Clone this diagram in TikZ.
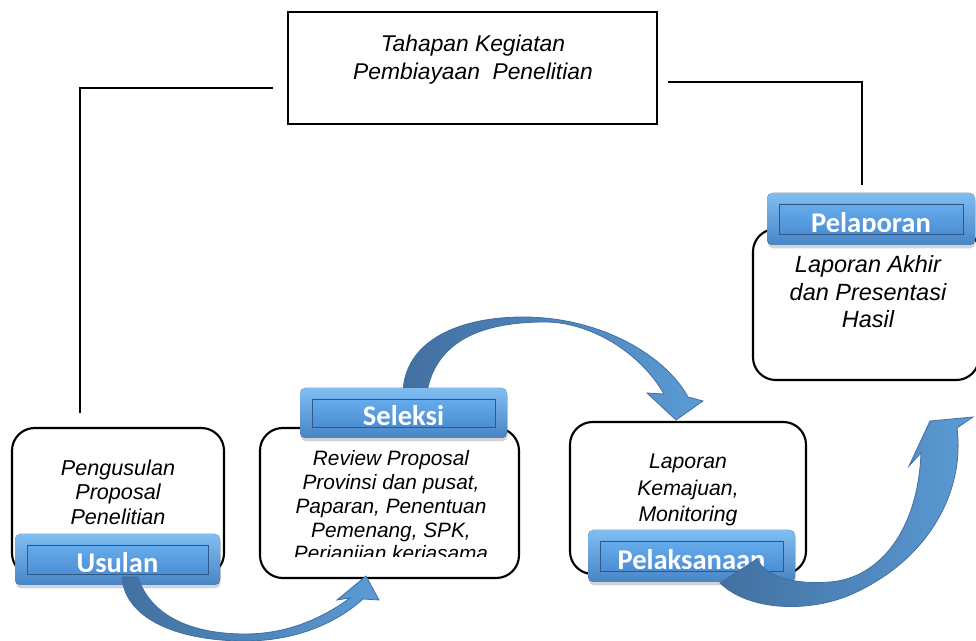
\documentclass[tikz,border=0pt]{standalone}
\usepackage{fontspec}
\setmainfont{Liberation Sans}
\newfontfamily\tombolfont{Carlito}
\usetikzlibrary{shadows}
\definecolor{biruPanah}{RGB}{91,155,213}
\definecolor{biruGelap}{RGB}{66,112,160}
\definecolor{biruAtas}{RGB}{128,190,242}
\definecolor{biruBawah}{RGB}{72,132,198}
\definecolor{mukaAtas}{RGB}{102,172,236}
\definecolor{mukaBawah}{RGB}{76,142,212}
\definecolor{garisMuka}{RGB}{48,88,132}
\tikzset{
  kotak/.style={draw=black,line width=1.6pt,rounded corners=17pt},
  garis/.style={draw=black,line width=1.6pt},
  panah/.style={left color=biruGelap,right color=biruPanah,draw=biruGelap,line width=.6pt},
  tombolluar/.style={top color=biruAtas,bottom color=biruBawah,rounded corners=4pt,
    drop shadow={shadow xshift=.5pt,shadow yshift=-2.5pt,opacity=.35}},
  tombolmuka/.style={top color=mukaAtas,bottom color=mukaBawah,draw=garisMuka,line width=.7pt},
  tomboltext/.style={anchor=base,text=white,inner sep=0pt,
    font=\tombolfont\bfseries\fontsize{21.4}{24}\selectfont},
  isi/.style={align=center,inner sep=0pt}
}
\begin{document}
\begin{tikzpicture}[x=.75pt,y=-.75pt]
  \useasboundingbox (0,0) rectangle (976,641);
  \clip (0,0) rectangle (976,641);
  % judul
  \node[draw=black,line width=1.6pt,minimum width=276.75pt,minimum height=84pt,inner sep=0pt] (judul) at (472.5,68) {};
  \node[isi,font=\fontsize{17.1}{21}\selectfont\itshape] (judulteks) at (473,60) {Tahapan Kegiatan\\Pembiayaan\ \ Penelitian};
  \coordinate (kiriA) at (273,88);
  \coordinate (kiriB) at (80,88);
  \coordinate (kiriC) at (80,413);
  \coordinate (kananA) at (668,82);
  \coordinate (kananB) at (862,82);
  \coordinate (kananC) at (862,185);
  \draw[garis] (kiriA) -- (kiriB) -- (kiriC);
  \draw[garis] (kananA) -- (kananB) -- (kananC);
  % kotak tahapan
  \draw[kotak] (12,428) rectangle (224,576);
  \draw[kotak] (260,428) rectangle (519,578);
  \draw[kotak] (570,422) rectangle (806,574);
  \draw[kotak] (753,229) rectangle (979,380);
  \node[isi,font=\fontsize{16.2}{18.4}\selectfont\itshape] (teksusulan) at (118,492) {Pengusulan\\Proposal\\Penelitian};
  \begin{scope}
    \clip (260,430) rectangle (519,557);
    \node[isi,font=\fontsize{15.6}{17.8}\selectfont\itshape] (teksseleksi) at (391,508) {Review Proposal\\Provinsi dan pusat,\\Paparan, Penentuan\\Pemenang, SPK,\\Perjanjian kerjasama};
  \end{scope}
  \node[isi,font=\fontsize{15.9}{19.9}\selectfont\itshape] (tekspelaksanaan) at (688,490) {Laporan\\Kemajuan,\\Monitoring};
  \node[isi,font=\fontsize{17.6}{20.6}\selectfont\itshape] (tekspelaporan) at (868,292) {Laporan Akhir\\dan Presentasi\\Hasil};
  % panah seleksi -> pelaksanaan
  \path[panah] (403,392) .. controls (405,340) and (460,317) .. (523,317)
    .. controls (600,317) and (665,355) .. (688,397)
    -- (703,401) -- (676,420) -- (647,393) -- (664,394)
    .. controls (640,352) and (590,322) .. (545,322)
    .. controls (480,322) and (436,342) .. (427,392) -- cycle;
  % tombol
  \foreach \nama/\teks/\xa/\ya/\xb/\yb in {usulan/Usulan/15/534/220/585,
    seleksi/Seleksi/300/388/507/438,
    pelaksanaan/Pelaksanaan/588/530/795/582,
    pelaporan/Pelaporan/767/193/975/245}{
    \fill[tombolluar] (\xa,\ya) rectangle (\xb,\yb);
    \draw[tombolmuka] (\xa+12,\ya+11) rectangle (\xb-12,\yb-11);
    \begin{scope}
      \clip (\xa,\ya) rectangle (\xb,\yb-13);
      \node[tomboltext] (\nama) at ({(\xa+\xb)/2},\yb-12) {\teks};
    \end{scope}
  }
  % panah usulan -> seleksi
  \path[panah] (122,577) .. controls (125,620) and (180,641) .. (245,641)
    .. controls (300,641) and (340,620) .. (363,599)
    -- (379,600) -- (366,576) -- (337,600) -- (350,598)
    .. controls (320,620) and (285,634) .. (245,634)
    .. controls (190,634) and (150,615) .. (138,577) -- cycle;
  % panah pelaksanaan -> pelaporan
  \path[panah] (720,583) -- (757,559) .. controls (765,575) and (790,585) .. (830,582)
    .. controls (880,578) and (918,530) .. (921,453)
    -- (909,466) -- (930,421) -- (973,417) -- (957,428)
    .. controls (965,490) and (930,560) .. (850,595)
    .. controls (810,612) and (750,612) .. (720,583) -- cycle;
\end{tikzpicture}
\end{document}
